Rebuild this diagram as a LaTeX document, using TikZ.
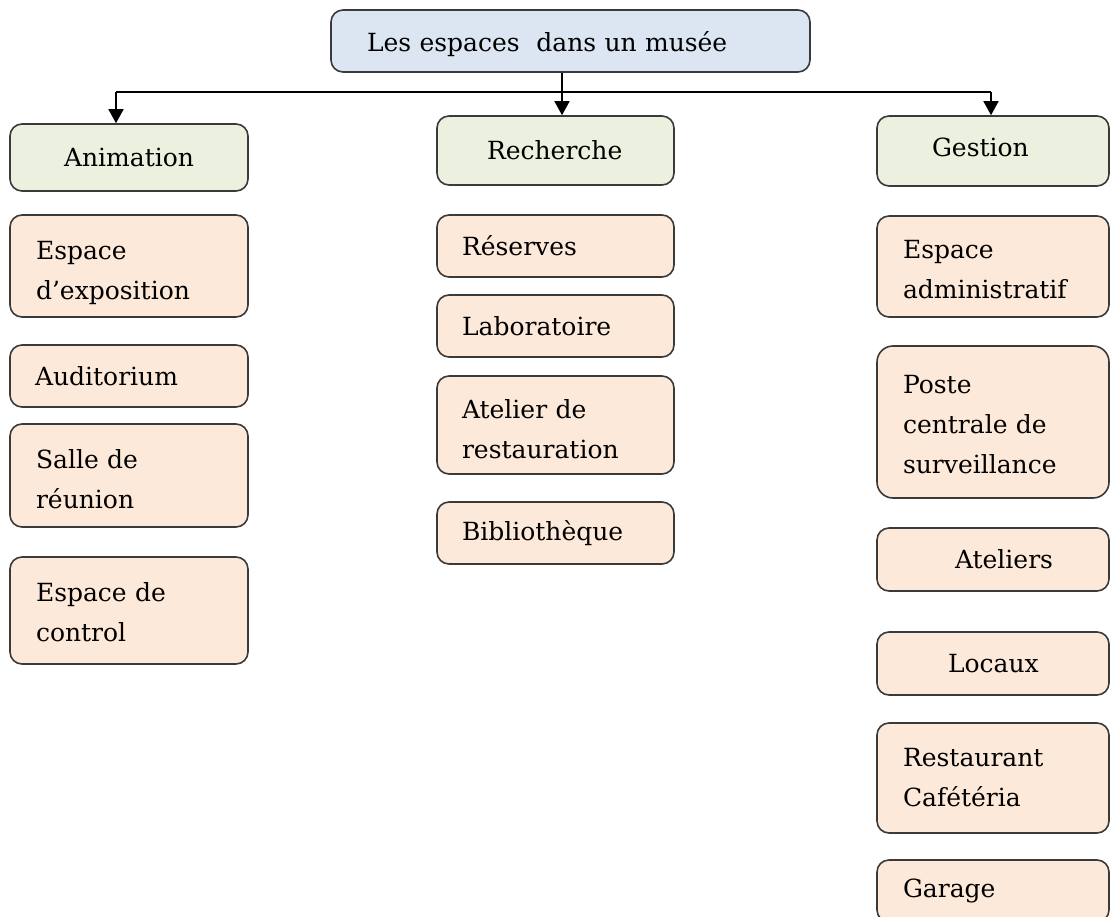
\documentclass[tikz,border=0pt]{standalone}
\usepackage{fontspec}
\setmainfont{DejaVu Serif}
\usetikzlibrary{arrows.meta}
\definecolor{rootfill}{HTML}{DCE6F2}
\definecolor{catfill}{HTML}{EBF1DE}
\definecolor{leaffill}{HTML}{FDE9D9}
\definecolor{edgegray}{HTML}{3A3A3A}
\begin{document}
\begin{tikzpicture}[x=1pt,y=1pt,
  every node/.style={font=\fontsize{25}{40}\selectfont, text=black},
  boxbase/.style={draw=edgegray, line width=1.6pt, rounded corners=12pt, align=left, inner ysep=2pt},
  rootbox/.style={boxbase, fill=rootfill},
  catbox/.style={boxbase, fill=catfill},
  leafbox/.style={boxbase, fill=leaffill},
  tdown/.style={execute at begin node={\rule{0pt}{#1}}},
  tup/.style={execute at end node={\rule[-#1]{0pt}{0pt}}},
  conn/.style={draw=black, line width=1.6pt},
  arr/.style={conn, -{Triangle[length=14pt,width=15pt]}}
]
\useasboundingbox (0,0) rectangle (1110,-917);

% root
\node[rootbox, minimum height=62pt, text width=407pt, inner xsep=36pt, tdown=27pt] (root) at (570.5,-41) {Les espaces~ dans un musée};

% categories
\node[catbox, minimum height=67pt, text width=130pt, inner xsep=54pt] (anim) at (129,-157.5) {Animation};
\node[catbox, minimum height=69pt, text width=137pt, inner xsep=50pt] (rech) at (555.5,-150.5) {Recherche};
\node[catbox, minimum height=70pt, text width=122pt, inner xsep=55pt, tup=7pt] (gest) at (993,-151) {Gestion};

% Animation column
\node[leafbox, minimum height=102pt, text width=186pt, inner xsep=26pt, tdown=32pt] (a1) at (129,-266) {Espace\\d’exposition};
\node[leafbox, minimum height=62pt, text width=188pt, inner xsep=25pt] (a2) at (129,-376) {Auditorium};
\node[leafbox, minimum height=103pt, text width=186pt, inner xsep=26pt, tdown=27pt] (a3) at (129,-475.5) {Salle de\\réunion};
\node[leafbox, minimum height=107pt, text width=186pt, inner xsep=26pt, tdown=23pt] (a4) at (129,-610.5) {Espace de\\control};

% Recherche column
\node[leafbox, minimum height=62pt, text width=187pt, inner xsep=25pt] (r1) at (555.5,-246) {Réserves};
\node[leafbox, minimum height=62pt, text width=187pt, inner xsep=25pt] (r2) at (555.5,-326) {Laboratoire};
\node[leafbox, minimum height=98pt, text width=187pt, inner xsep=25pt, tdown=27pt] (r3) at (555.5,-425) {Atelier de\\restauration};
\node[leafbox, minimum height=62pt, text width=187pt, inner xsep=25pt] (r4) at (555.5,-533) {Bibliothèque};

% Gestion column
\node[leafbox, minimum height=101pt, text width=180pt, inner xsep=26pt, tdown=25pt] (g1) at (993,-266.5) {Espace\\administratif};
\node[leafbox, minimum height=152pt, text width=180pt, inner xsep=26pt, rounded corners=16pt, tdown=23pt] (g2) at (993,-422) {Poste\\centrale de\\surveillance};
\node[leafbox, minimum height=63pt, text width=180pt, inner xsep=26pt] (g3) at (993,-559.5) {\hspace*{52pt}Ateliers};
\node[leafbox, minimum height=63pt, text width=180pt, inner xsep=26pt] (g4) at (993,-663.5) {\hspace*{45pt}Locaux};
\node[leafbox, minimum height=110pt, text width=180pt, inner xsep=26pt] (g5) at (993,-778) {Restaurant\\Cafétéria};
\node[leafbox, minimum height=62pt, text width=180pt, inner xsep=26pt] (g6) at (993,-891) {Garage};

% connectors
\coordinate (j) at (562,-92);
\coordinate (jl) at (116,-92);
\coordinate (jr) at (991,-92);
\draw[conn] (root.south -| j) -- (j);
\draw[conn] (jl) -- (jr);
\draw[arr] (jl) -- (jl |- anim.north);
\draw[arr] (j) -- (j |- rech.north);
\draw[arr] (jr) -- (jr |- gest.north);
\end{tikzpicture}
\end{document}
